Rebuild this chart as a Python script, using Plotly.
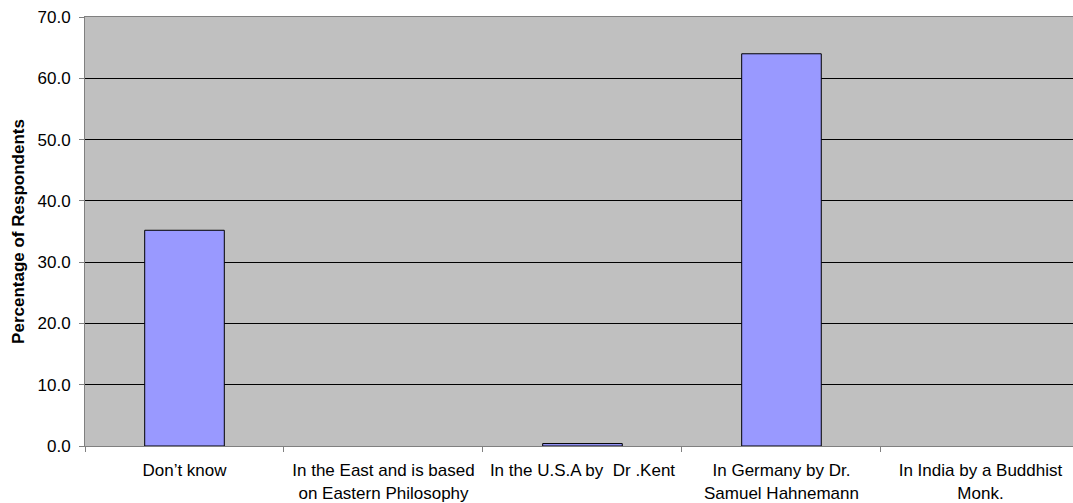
import plotly.graph_objects as go

categories = [
    "Don\u2019t know",
    "In the East and is based<br>on Eastern Philosophy",
    "In the U.S.A by \u00a0Dr .Kent",
    "In Germany by Dr.<br>Samuel Hahnemann",
    "In India by a Buddhist<br>Monk.",
]
percentages = [35.2, 0.0, 0.4, 64.0, 0.0]
y_ticks = [0, 10, 20, 30, 40, 50, 60, 70]

# zero-height bars get no outline so nothing is drawn for them
outline_widths = [1 if v > 0 else 0 for v in percentages]

fig = go.Figure(
    go.Bar(
        x=categories,
        y=percentages,
        width=0.4,
        marker=dict(color="#9999FF", line=dict(color="#000000", width=outline_widths)),
    )
)

fig.update_layout(
    width=1073,
    height=503,
    margin=dict(l=85, r=0, t=17, b=57),
    paper_bgcolor="white",
    plot_bgcolor="#C0C0C0",
    showlegend=False,
    font=dict(family="Liberation Sans, Arial, sans-serif", color="#000000"),
)

fig.update_xaxes(
    type="category",
    range=[-0.5, 4.465],
    tickson="boundaries",
    ticks="outside",
    ticklen=5,
    tickcolor="#808080",
    showline=True,
    linecolor="#808080",
    linewidth=1,
    mirror=True,
    showgrid=False,
    tickfont=dict(size=17),
    ticklabelstandoff=9,
)

fig.update_yaxes(
    range=[0, 70],
    tickvals=y_ticks,
    ticktext=[f"{v:.1f}" for v in y_ticks],
    ticks="outside",
    ticklen=5,
    tickcolor="#808080",
    showline=True,
    linecolor="#808080",
    linewidth=1,
    showgrid=True,
    gridcolor="#000000",
    gridwidth=1,
    zeroline=False,
    tickfont=dict(size=17),
    ticklabelstandoff=5,
    title=dict(text="<b>Percentage of Respondents</b>", font=dict(size=17), standoff=8),
)

fig.write_html("out.html")
